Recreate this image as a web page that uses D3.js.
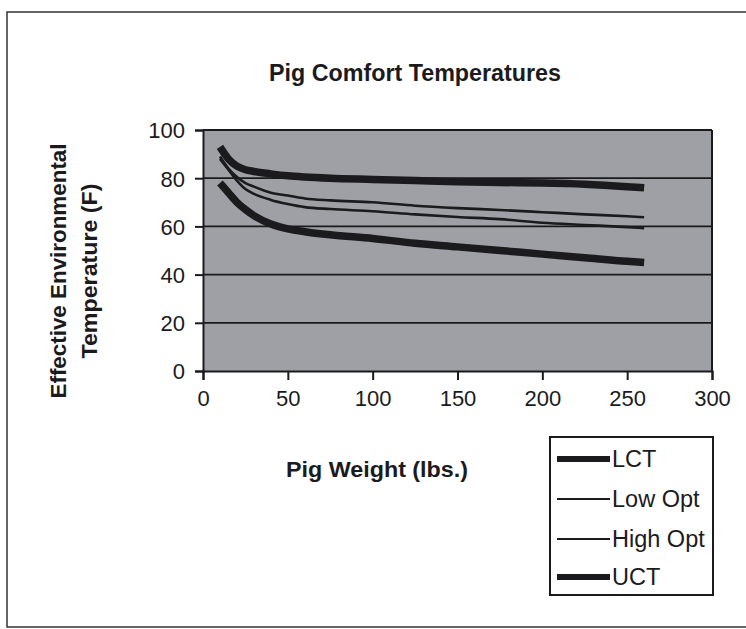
<!DOCTYPE html>
<html><head><meta charset="utf-8">
<script src="https://cdn.jsdelivr.net/npm/d3@7"></script>
<style>body{margin:0;background:#fff;}svg{display:block;}</style>
</head><body>
<svg id="c" width="746" height="629"></svg>
<script>
const weights = [10, 15, 20, 25, 30, 40, 50, 60, 75, 100, 125, 150, 175, 200, 225, 250, 260];
const lct     = [78, 74, 70, 67, 64.5, 61, 59, 57.8, 56.5, 55, 53, 51.5, 50, 48.5, 47, 45.5, 45];
const lowOpt  = [88, 83.5, 79, 75.5, 73.5, 71, 69.3, 68, 67.2, 66.3, 65, 63.9, 63, 61.5, 60.6, 59.7, 59.3];
const highOpt = [89, 84, 80.5, 78, 76.5, 74, 72.8, 71.6, 70.8, 70, 68.6, 67.6, 66.8, 65.9, 65, 64.2, 63.8];
const uct     = [93, 88, 85, 83.5, 82.8, 81.8, 81, 80.5, 80, 79.5, 79, 78.5, 78.2, 78, 77.5, 76.5, 76];
const seriesNames = ["LCT", "Low Opt", "High Opt", "UCT"];
const xTicks = [0, 50, 100, 150, 200, 250, 300];
const yTicks = [0, 20, 40, 60, 80, 100];
const titleText = "Pig Comfort Temperatures";
const xTitle = "Pig Weight (lbs.)";
const yTitle = ["Effective Environmental", "Temperature (F)"];

const svg = d3.select("#c");
const ink = "#1b1b1e";
const boldFont = "'Liberation Sans', Arial, sans-serif";

// outer frame
svg.append("rect").attr("x", 7).attr("y", 12).attr("width", 760).attr("height", 615)
  .attr("fill", "none").attr("stroke", "#333").attr("stroke-width", 1.5);

const x = d3.scaleLinear().domain([0, 300]).range([203, 712]);
const y = d3.scaleLinear().domain([0, 100]).range([371, 130]);

// plot background
svg.append("rect").attr("x", x(0)).attr("y", y(100)).attr("width", x(300) - x(0)).attr("height", y(0) - y(100))
  .attr("fill", "#9fa0a5");

// gridlines
svg.append("g").selectAll("line").data(yTicks.filter(d => d > 0)).join("line")
  .attr("x1", x(0)).attr("x2", x(300)).attr("y1", d => y(d)).attr("y2", d => y(d))
  .attr("stroke", ink).attr("stroke-width", 1.8);

// plot frame right side
svg.append("line").attr("x1", x(300)).attr("x2", x(300)).attr("y1", y(100)).attr("y2", y(0))
  .attr("stroke", ink).attr("stroke-width", 2);

// axes
const xAxis = svg.append("g").attr("transform", `translate(0,${y(0)})`)
  .call(d3.axisBottom(x).tickValues(xTicks).tickSize(9).tickPadding(10));
const yAxis = svg.append("g").attr("transform", `translate(${x(0)},0)`)
  .call(d3.axisLeft(y).tickValues(yTicks).tickSize(8).tickPadding(10));
[xAxis, yAxis].forEach(g => {
  g.select(".domain").attr("stroke", ink).attr("stroke-width", 2);
  g.selectAll(".tick line").attr("stroke", ink).attr("stroke-width", 2);
  g.selectAll("text").attr("fill", ink).style("font-family", "Arial, 'Liberation Sans', sans-serif").style("font-size", "22px");
});
yAxis.selectAll("text").attr("dy", "0.36em");

// series
const data = [lct, lowOpt, highOpt, uct];
const widths = [7.5, 2.6, 2.6, 7.5];
const line = d3.line().x(d => x(d[0])).y(d => y(d[1])).curve(d3.curveMonotoneX);
svg.append("g").selectAll("path").data(data).join("path")
  .attr("d", vals => line(weights.map((w, i) => [w, vals[i]])))
  .attr("fill", "none").attr("stroke", ink)
  .attr("stroke-width", (d, i) => widths[i]).attr("stroke-linejoin", "round");

// titles
svg.append("text").attr("x", 415).attr("y", 81).attr("text-anchor", "middle")
  .attr("textLength", 292).attr("lengthAdjust", "spacingAndGlyphs")
  .style("font-family", boldFont).style("font-weight", "bold").style("font-size", "23px").attr("fill", ink)
  .text(titleText);
svg.append("text").attr("x", 377).attr("y", 477).attr("text-anchor", "middle")
  .attr("textLength", 182).attr("lengthAdjust", "spacingAndGlyphs")
  .style("font-family", boldFont).style("font-weight", "bold").style("font-size", "22px").attr("fill", ink)
  .text(xTitle);
const yt = [{t: yTitle[0], cx: 66, len: 255}, {t: yTitle[1], cx: 97, len: 175}];
yt.forEach(o => {
  svg.append("text").attr("transform", `translate(${o.cx},271) rotate(-90)`).attr("text-anchor", "middle")
    .attr("textLength", o.len).attr("lengthAdjust", "spacingAndGlyphs")
    .style("font-family", boldFont).style("font-weight", "bold").style("font-size", "22px").attr("fill", ink)
    .text(o.t);
});

// legend
const lg = svg.append("g");
lg.append("rect").attr("x", 550).attr("y", 437).attr("width", 163).attr("height", 158)
  .attr("fill", "#fff").attr("stroke", ink).attr("stroke-width", 2);
const ly = [459, 499, 539, 577];
seriesNames.forEach((n, i) => {
  lg.append("line").attr("x1", 557).attr("x2", 610).attr("y1", ly[i]).attr("y2", ly[i])
    .attr("stroke", ink).attr("stroke-width", i === 0 || i === 3 ? 6 : 2);
  lg.append("text").attr("x", 612).attr("y", ly[i]).attr("dy", "0.36em")
    .style("font-family", "Arial, 'Liberation Sans', sans-serif").style("font-size", "23.5px").attr("fill", ink)
    .text(n);
});
</script>
</body></html>
